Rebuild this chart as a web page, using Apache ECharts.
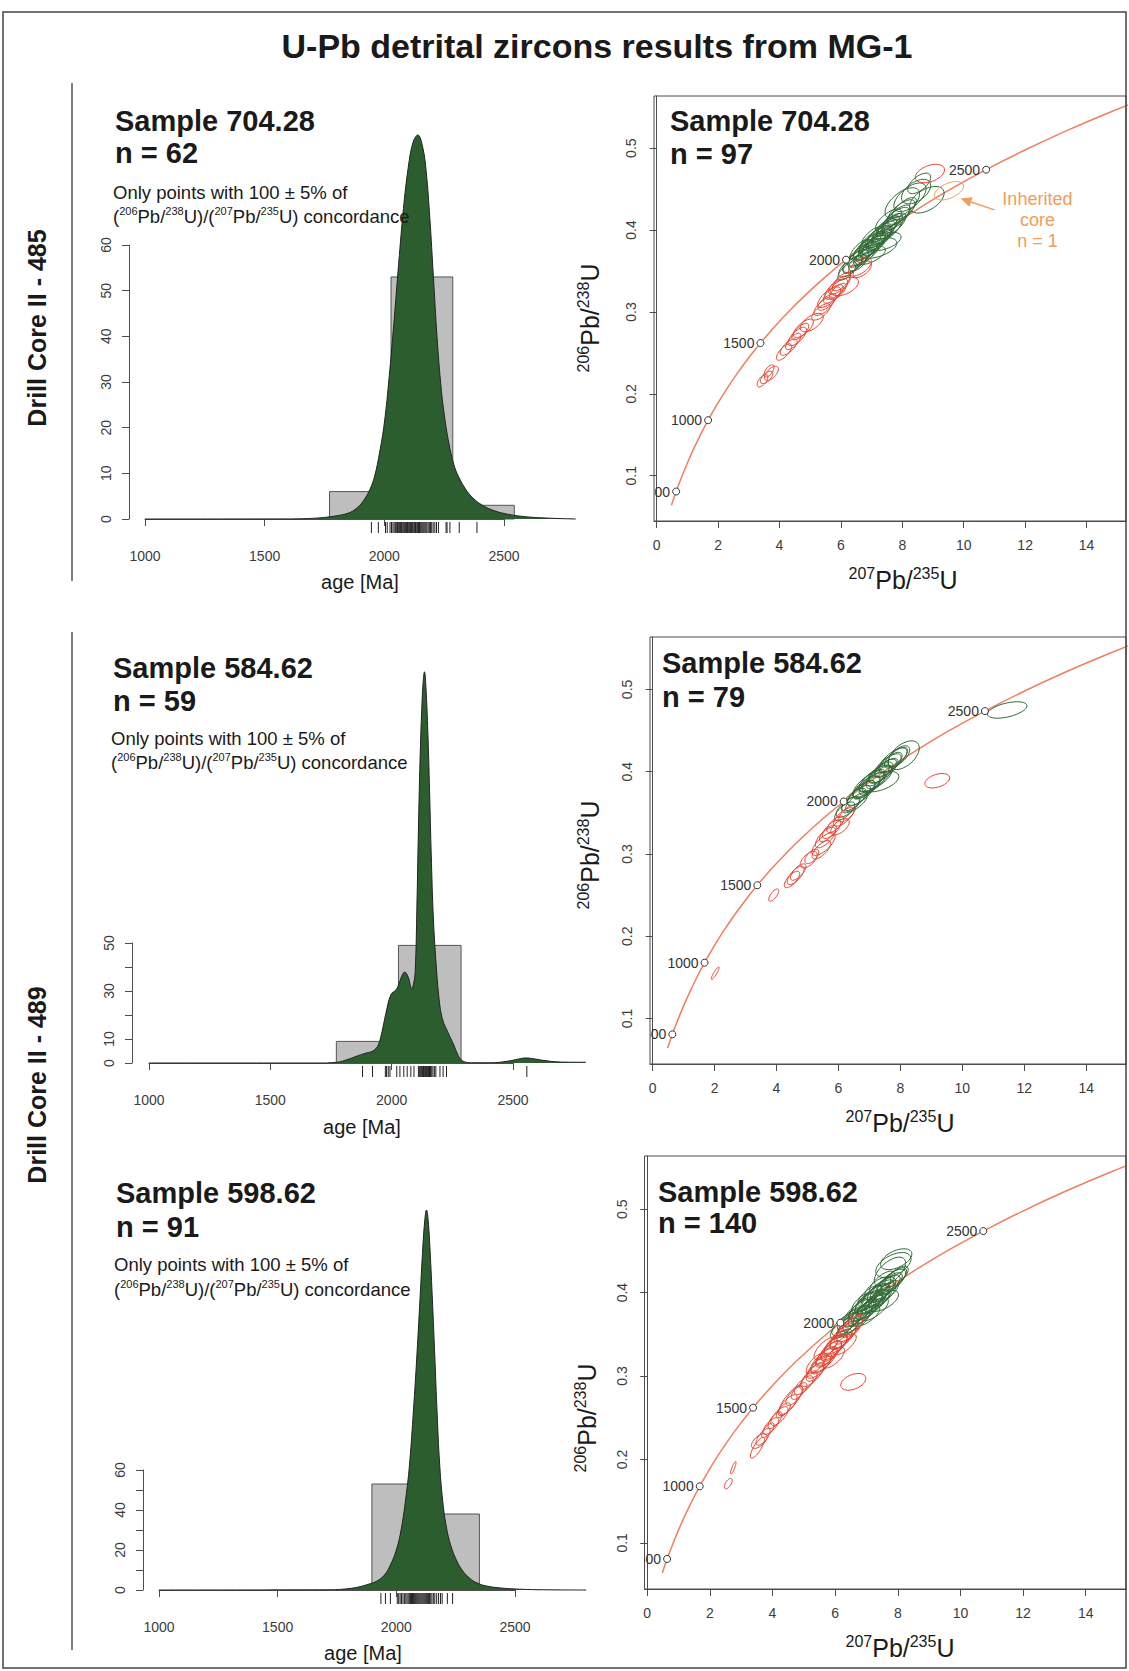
<!DOCTYPE html>
<html>
<head>
<meta charset="utf-8">
<title>U-Pb detrital zircons results from MG-1</title>
<script src="https://cdn.jsdelivr.net/npm/echarts@6/dist/echarts.min.js"></script>
<style>
  html, body { margin: 0; padding: 0; background: #fff; }
  #main { width: 1129px; height: 1671px; }
</style>
</head>
<body>
<div id="main"></div>
<script>
// ---- histograms: [from Ma, to Ma, count] ----
var hist704 = [[1771, 2028, 6], [2028, 2286, 53], [2286, 2543, 3]];
var hist584 = [[1772, 2028, 9], [2028, 2286, 49]];
var hist598 = [[1897, 2124, 53], [2124, 2350, 38]];

// ---- kernel density curves: [age Ma, value] ----
var kde704 = [[1000, 0], [1600, 0.02], [1650, 0.05], [1700, 0.15], [1750, 0.35], [1800, 0.7], [1850, 1.3],
  [1880, 2.2], [1910, 3.8], [1940, 6.5], [1960, 9.5], [1980, 14.5], [2000, 21], [2020, 31], [2040, 43], [2060, 56],
  [2080, 68], [2100, 77], [2120, 82.5], [2140, 84.1], [2160, 81.5], [2175, 76], [2190, 66], [2205, 53], [2220, 40],
  [2235, 30], [2250, 23], [2270, 16.5], [2290, 12], [2310, 9.3], [2340, 6.5], [2370, 4.6], [2410, 3.0], [2460, 1.8],
  [2520, 1.0], [2590, 0.5], [2660, 0.25], [2730, 0.1], [2800, 0]];
var kde584 = [[1000, 0], [1700, 0], [1773, 0.3], [1820, 1.5], [1855, 2.8], [1890, 4], [1919, 4.8], [1935, 6],
  [1947, 8], [1960, 13], [1976, 20.6], [1997, 28.5], [2018, 30.5], [2030, 33], [2040, 35.8], [2054, 37.9],
  [2068, 35.8], [2083, 31], [2090, 33], [2097, 38], [2104, 65], [2111, 101], [2118, 130], [2125, 150], [2130, 159],
  [2135, 163], [2142, 155], [2150, 135], [2157, 110], [2163, 87], [2172, 60], [2185, 38.6], [2195, 27], [2204, 20.6],
  [2215, 16.5], [2225, 14.3], [2240, 11], [2254, 8], [2268, 4.5], [2282, 1.8], [2300, 0.5], [2330, 0.1],
  [2410, 0.1], [2481, 0.8], [2520, 1.6], [2553, 2.1], [2590, 1.7], [2624, 1.1], [2695, 0.4], [2800, 0.3]];
var kde598 = [[1000, 0], [1700, 0.1], [1760, 0.3], [1800, 0.7], [1840, 1.5], [1880, 2.8], [1917, 4.4], [1950, 7.5],
  [1975, 12.5], [2000, 20], [2020, 30], [2040, 46], [2055, 62], [2070, 86], [2085, 114], [2100, 146], [2112, 172],
  [2120, 185], [2127, 190], [2134, 185], [2142, 170], [2152, 145], [2162, 117], [2172, 88], [2182, 64], [2195, 45],
  [2210, 32], [2230, 22], [2255, 14.5], [2280, 9.5], [2310, 5.8], [2340, 3.5], [2380, 2], [2440, 1], [2520, 0.4],
  [2620, 0.1], [2800, 0]];

// ---- rug ages (Ma) ----
var rug704 = [1946, 1975, 2005, 2012, 2024, 2030, 2036, 2041, 2046, 2050, 2055, 2060, 2064, 2068, 2072, 2077, 2081,
  2085, 2089, 2093, 2097, 2100, 2104, 2107, 2110, 2113, 2117, 2120, 2124, 2127, 2130, 2133, 2137, 2140, 2143, 2147,
  2150, 2154, 2158, 2162, 2166, 2170, 2174, 2178, 2183, 2188, 2193, 2198, 2204, 2211, 2218, 2226, 2258, 2262, 2274,
  2313, 2387];
var rug584 = [1880, 1921, 1974, 1979, 1986, 1993, 2021, 2034, 2050, 2064, 2079, 2092, 2110, 2114, 2118, 2122, 2125,
  2128, 2131, 2134, 2137, 2140, 2143, 2146, 2149, 2152, 2156, 2160, 2165, 2170, 2176, 2182, 2199, 2212, 2226, 2557];
var rug598 = [1935, 1954, 1975, 2004, 2010, 2016, 2022, 2028, 2034, 2040, 2045, 2050, 2055, 2060, 2064, 2068, 2072,
  2076, 2080, 2084, 2088, 2092, 2096, 2100, 2104, 2108, 2112, 2116, 2120, 2124, 2128, 2132, 2136, 2140, 2145, 2150,
  2156, 2162, 2170, 2178, 2186, 2193, 2215, 2237];

// ---- concordia (207Pb/235U, 206Pb/238U) ----
var concordiaCurve = [[0.483, 0.0640], [0.558, 0.0723], [0.636, 0.0807], [0.806, 0.0975], [0.993, 0.1147],
  [1.199, 0.1321], [1.426, 0.1498], [1.677, 0.1678], [1.955, 0.1861], [2.260, 0.2046], [2.598, 0.2234],
  [2.970, 0.2426], [3.381, 0.2620], [3.834, 0.2817], [4.335, 0.3018], [4.887, 0.3221], [5.496, 0.3428],
  [6.169, 0.3638], [6.911, 0.3851], [7.729, 0.4067], [8.633, 0.4287], [9.630, 0.4511], [10.730, 0.4737],
  [11.944, 0.4968], [13.283, 0.5202], [14.762, 0.5439], [16.393, 0.5681]];
var concordiaAges = ['500', '1000', '1500', '2000', '2500'];
var concordiaMarks = [[0.636, 0.0807], [1.677, 0.1678], [3.381, 0.2620], [6.169, 0.3638], [10.730, 0.4737]];

// ---- error ellipses: [x, y, sx, sy, rho] ----
var green704 = [[6.20, 0.350, 0.24, 0.009, 0.7], [6.30, 0.355, 0.30, 0.010, 0.7], [6.40, 0.358, 0.26, 0.009, 0.7],
  [6.48, 0.362, 0.34, 0.011, 0.7], [6.55, 0.360, 0.24, 0.008, 0.6], [6.62, 0.367, 0.32, 0.010, 0.7],
  [6.70, 0.371, 0.38, 0.012, 0.75], [6.76, 0.368, 0.28, 0.009, 0.7], [6.82, 0.376, 0.34, 0.011, 0.7],
  [6.88, 0.373, 0.30, 0.010, 0.7], [6.92, 0.380, 0.40, 0.013, 0.75], [6.98, 0.378, 0.28, 0.009, 0.7],
  [7.03, 0.384, 0.34, 0.011, 0.7], [7.08, 0.381, 0.30, 0.010, 0.7], [7.12, 0.388, 0.42, 0.013, 0.75],
  [7.17, 0.386, 0.28, 0.009, 0.7], [7.22, 0.392, 0.34, 0.011, 0.7], [7.27, 0.389, 0.30, 0.010, 0.7],
  [7.32, 0.396, 0.36, 0.012, 0.75], [7.37, 0.393, 0.28, 0.009, 0.7], [7.42, 0.400, 0.32, 0.011, 0.7],
  [7.48, 0.398, 0.38, 0.012, 0.75], [7.54, 0.405, 0.30, 0.010, 0.7], [7.60, 0.403, 0.34, 0.011, 0.7],
  [7.66, 0.409, 0.28, 0.009, 0.7], [7.72, 0.407, 0.32, 0.011, 0.7], [7.80, 0.414, 0.34, 0.011, 0.7],
  [7.88, 0.418, 0.30, 0.010, 0.7], [7.96, 0.422, 0.36, 0.012, 0.7], [8.06, 0.426, 0.32, 0.011, 0.7],
  [7.20, 0.378, 0.50, 0.010, 0.5], [7.40, 0.386, 0.45, 0.009, 0.5], [6.95, 0.369, 0.40, 0.009, 0.6],
  [7.05, 0.392, 0.30, 0.010, 0.7], [7.55, 0.412, 0.34, 0.011, 0.7], [6.65, 0.376, 0.28, 0.010, 0.7],
  [8.00, 0.433, 0.45, 0.015, 0.6], [8.25, 0.440, 0.42, 0.014, 0.6], [8.55, 0.457, 0.30, 0.010, 0.6],
  [8.80, 0.437, 0.45, 0.013, 0.5], [8.45, 0.447, 0.38, 0.012, 0.5]];
var red704 = [[3.45, 0.216, 0.14, 0.006, 0.6], [3.58, 0.220, 0.16, 0.006, 0.6], [3.66, 0.228, 0.13, 0.006, 0.6],
  [3.74, 0.225, 0.18, 0.007, 0.6], [4.15, 0.251, 0.20, 0.008, 0.7], [4.30, 0.257, 0.22, 0.008, 0.7],
  [4.45, 0.264, 0.20, 0.008, 0.7], [4.58, 0.270, 0.24, 0.009, 0.7], [4.68, 0.276, 0.22, 0.008, 0.7],
  [4.78, 0.280, 0.26, 0.009, 0.7], [5.05, 0.287, 0.30, 0.009, 0.6], [5.35, 0.300, 0.24, 0.008, 0.7],
  [5.45, 0.307, 0.26, 0.009, 0.7], [5.55, 0.312, 0.24, 0.008, 0.7], [5.62, 0.318, 0.30, 0.010, 0.7],
  [5.75, 0.322, 0.26, 0.009, 0.7], [5.85, 0.328, 0.30, 0.010, 0.7], [5.95, 0.333, 0.28, 0.009, 0.7],
  [6.02, 0.337, 0.24, 0.009, 0.7], [6.12, 0.331, 0.36, 0.009, 0.5], [5.90, 0.325, 0.22, 0.008, 0.7],
  [6.62, 0.355, 0.30, 0.009, 0.6], [6.70, 0.352, 0.24, 0.008, 0.6], [8.90, 0.469, 0.38, 0.009, 0.4]];
var inherited704 = [[9.52, 0.448, 0.38, 0.009, 0.5]];

var green584 = [[6.20, 0.352, 0.26, 0.009, 0.7], [6.30, 0.357, 0.30, 0.010, 0.7], [6.40, 0.360, 0.24, 0.008, 0.6],
  [6.50, 0.366, 0.32, 0.011, 0.7], [6.58, 0.363, 0.28, 0.009, 0.7], [6.66, 0.371, 0.30, 0.010, 0.7],
  [6.74, 0.374, 0.36, 0.012, 0.75], [6.82, 0.378, 0.28, 0.009, 0.7], [6.90, 0.381, 0.34, 0.011, 0.7],
  [6.96, 0.385, 0.40, 0.013, 0.75], [7.02, 0.383, 0.28, 0.009, 0.7], [7.08, 0.389, 0.34, 0.011, 0.7],
  [7.14, 0.387, 0.30, 0.010, 0.7], [7.20, 0.392, 0.42, 0.013, 0.75], [7.26, 0.395, 0.30, 0.010, 0.7],
  [7.32, 0.393, 0.34, 0.011, 0.7], [7.38, 0.399, 0.30, 0.010, 0.7], [7.45, 0.401, 0.38, 0.012, 0.75],
  [7.52, 0.404, 0.28, 0.009, 0.7], [7.60, 0.408, 0.34, 0.011, 0.7], [7.68, 0.411, 0.30, 0.010, 0.7],
  [7.76, 0.414, 0.36, 0.012, 0.7], [7.86, 0.417, 0.30, 0.010, 0.7], [7.95, 0.419, 0.28, 0.010, 0.6],
  [7.35, 0.388, 0.48, 0.010, 0.5], [8.11, 0.420, 0.40, 0.014, 0.5], [11.45, 0.475, 0.51, 0.008, 0.5]];
var red584 = [[2.02, 0.155, 0.10, 0.006, 0.9], [3.91, 0.250, 0.13, 0.006, 0.7], [4.50, 0.269, 0.20, 0.008, 0.7],
  [4.62, 0.274, 0.22, 0.009, 0.7], [4.70, 0.278, 0.20, 0.008, 0.7], [5.04, 0.293, 0.22, 0.008, 0.6],
  [5.14, 0.297, 0.18, 0.007, 0.6], [5.45, 0.305, 0.24, 0.009, 0.7], [5.52, 0.312, 0.30, 0.011, 0.7],
  [5.58, 0.320, 0.26, 0.010, 0.7], [5.66, 0.325, 0.22, 0.008, 0.7], [5.78, 0.330, 0.24, 0.009, 0.7],
  [5.90, 0.336, 0.22, 0.008, 0.7], [6.05, 0.333, 0.24, 0.008, 0.6], [6.17, 0.345, 0.26, 0.009, 0.7],
  [6.28, 0.349, 0.22, 0.008, 0.7], [9.19, 0.389, 0.32, 0.007, 0.4]];

var green598 = [[6.22, 0.357, 0.30, 0.010, 0.7], [6.32, 0.362, 0.34, 0.011, 0.7], [6.40, 0.358, 0.28, 0.009, 0.7],
  [6.48, 0.367, 0.32, 0.011, 0.7], [6.55, 0.364, 0.36, 0.012, 0.75], [6.62, 0.371, 0.30, 0.010, 0.7],
  [6.68, 0.366, 0.34, 0.011, 0.7], [6.74, 0.376, 0.40, 0.013, 0.75], [6.80, 0.372, 0.30, 0.010, 0.7],
  [6.86, 0.380, 0.36, 0.012, 0.7], [6.92, 0.376, 0.32, 0.011, 0.7], [6.98, 0.384, 0.42, 0.014, 0.75],
  [7.03, 0.380, 0.30, 0.010, 0.7], [7.08, 0.388, 0.36, 0.012, 0.7], [7.13, 0.383, 0.32, 0.011, 0.7],
  [7.18, 0.392, 0.44, 0.014, 0.75], [7.23, 0.387, 0.30, 0.010, 0.7], [7.28, 0.396, 0.36, 0.012, 0.7],
  [7.33, 0.390, 0.32, 0.011, 0.7], [7.38, 0.399, 0.40, 0.013, 0.75], [7.43, 0.394, 0.30, 0.010, 0.7],
  [7.48, 0.403, 0.36, 0.012, 0.7], [7.54, 0.398, 0.32, 0.011, 0.7], [7.60, 0.406, 0.38, 0.012, 0.75],
  [7.66, 0.402, 0.30, 0.010, 0.7], [7.72, 0.410, 0.34, 0.011, 0.7], [7.80, 0.413, 0.36, 0.012, 0.7],
  [7.88, 0.416, 0.32, 0.011, 0.7], [7.96, 0.419, 0.30, 0.010, 0.7], [7.10, 0.396, 0.30, 0.010, 0.7],
  [7.35, 0.405, 0.34, 0.011, 0.7], [6.90, 0.388, 0.30, 0.010, 0.7], [7.55, 0.390, 0.38, 0.010, 0.6],
  [7.00, 0.372, 0.34, 0.010, 0.7], [7.25, 0.380, 0.36, 0.011, 0.7], [7.50, 0.412, 0.32, 0.011, 0.7],
  [7.75, 0.425, 0.40, 0.014, 0.6], [7.86, 0.433, 0.45, 0.012, 0.5], [7.95, 0.440, 0.40, 0.010, 0.5]];
var red598 = [[2.59, 0.171, 0.10, 0.005, 0.6], [2.75, 0.190, 0.07, 0.006, 0.85], [3.52, 0.214, 0.18, 0.010, 0.8],
  [3.58, 0.222, 0.20, 0.007, 0.6], [3.70, 0.227, 0.18, 0.008, 0.7], [3.85, 0.235, 0.16, 0.007, 0.7],
  [3.95, 0.240, 0.20, 0.008, 0.7], [4.08, 0.247, 0.18, 0.008, 0.7], [4.22, 0.252, 0.22, 0.009, 0.7],
  [4.35, 0.259, 0.18, 0.007, 0.7], [4.48, 0.265, 0.24, 0.010, 0.75], [4.58, 0.271, 0.30, 0.014, 0.8],
  [4.70, 0.276, 0.22, 0.009, 0.7], [4.85, 0.282, 0.20, 0.008, 0.7], [5.00, 0.289, 0.24, 0.009, 0.7],
  [5.15, 0.295, 0.22, 0.009, 0.7], [5.28, 0.301, 0.28, 0.011, 0.75], [5.38, 0.305, 0.24, 0.009, 0.7],
  [5.48, 0.311, 0.30, 0.011, 0.75], [5.56, 0.315, 0.26, 0.010, 0.7], [5.64, 0.319, 0.34, 0.012, 0.75],
  [5.72, 0.323, 0.28, 0.010, 0.7], [5.80, 0.327, 0.32, 0.012, 0.75], [5.88, 0.330, 0.26, 0.010, 0.7],
  [5.95, 0.334, 0.34, 0.012, 0.75], [6.02, 0.337, 0.30, 0.011, 0.7], [6.10, 0.341, 0.36, 0.012, 0.75],
  [6.18, 0.344, 0.28, 0.010, 0.7], [6.26, 0.348, 0.34, 0.012, 0.7], [6.35, 0.352, 0.30, 0.011, 0.7],
  [6.45, 0.356, 0.34, 0.012, 0.7], [6.55, 0.360, 0.30, 0.011, 0.7], [5.70, 0.333, 0.30, 0.011, 0.7],
  [5.95, 0.322, 0.28, 0.010, 0.7], [6.30, 0.338, 0.30, 0.010, 0.7], [5.40, 0.315, 0.26, 0.010, 0.7],
  [6.58, 0.293, 0.32, 0.008, 0.4]];

// inherited core arrow: tail x, tail y, tip x, tip y
var inheritedArrow = [[11.0, 0.4246, 9.9, 0.4385]];

// ------------------------------------------------------------------
var FONT = '"Liberation Sans", Arial, Helvetica, sans-serif';
var INK = '#1a1a1a', AXIS = '#4d4d4d', TICKTXT = '#3c3c3c';
var KDE_FILL = '#2c5d2f', BAR_FILL = '#bebebe', CURVE = '#ef7f5f';
var RED = '#e8412d', GREEN = '#2f6b37', ORANGE = '#f39c5b';
var ELLIPSE_K = 1.25;   // drawn confidence scale

var chart = echarts.init(document.getElementById('main'), null, { renderer: 'svg', width: 1129, height: 1671 });

function histItem(params, api) {
    var a = api.coord([api.value(0), api.value(2)]);
    var b = api.coord([api.value(1), 0]);
    return {
        type: 'rect',
        shape: { x: a[0], y: a[1], width: b[0] - a[0], height: b[1] - a[1] },
        style: { fill: BAR_FILL, stroke: '#555', lineWidth: 1 }
    };
}

function rugItem(params, api) {
    var p = api.coord([api.value(0), 0]);
    return {
        type: 'line',
        shape: { x1: p[0], y1: p[1] + 3, x2: p[0], y2: p[1] + 14 },
        style: { stroke: '#222', lineWidth: 1 }
    };
}

function ellipseItem(color) {
    return function (params, api) {
        var x = api.value(0), y = api.value(1);
        var sx = api.value(2) * ELLIPSE_K, sy = api.value(3) * ELLIPSE_K, r = api.value(4);
        var k = Math.sqrt(1 - r * r);
        var pts = [];
        for (var i = 0; i < 40; i++) {
            var t = i / 40 * Math.PI * 2;
            var c = Math.cos(t), s = Math.sin(t);
            pts.push(api.coord([x + sx * c, y + sy * (r * c + k * s)]));
        }
        return { type: 'polygon', shape: { points: pts }, style: { fill: 'none', stroke: color, lineWidth: 1 } };
    };
}

function markItem(params, api) {
    var p = api.coord([api.value(0), api.value(1)]);
    return {
        type: 'group',
        children: [
            { type: 'circle', shape: { cx: p[0], cy: p[1], r: 3.5 }, style: { fill: '#fff', stroke: '#333', lineWidth: 1 } },
            {
                type: 'text', x: p[0] - 6, y: p[1],
                style: { text: concordiaAges[params.dataIndex], font: '14px ' + FONT, fill: '#333',
                    textAlign: 'right', textVerticalAlign: 'middle' }
            }
        ]
    };
}

function arrowItem(params, api) {
    var a = api.coord([api.value(0), api.value(1)]);
    var b = api.coord([api.value(2), api.value(3)]);
    var dx = b[0] - a[0], dy = b[1] - a[1], len = Math.sqrt(dx * dx + dy * dy);
    var ux = dx / len, uy = dy / len, hl = 11, hw = 5;
    var base = [b[0] - ux * hl, b[1] - uy * hl];
    var t = api.coord([12.4, 0.412]);
    return {
        type: 'group',
        children: [
            { type: 'line', shape: { x1: a[0], y1: a[1], x2: base[0], y2: base[1] }, style: { stroke: ORANGE, lineWidth: 1.5 } },
            { type: 'polygon', shape: { points: [b, [base[0] - uy * hw, base[1] + ux * hw], [base[0] + uy * hw, base[1] - ux * hw]] },
              style: { fill: ORANGE } },
            { type: 'text', x: t[0], y: t[1],
              style: { text: 'Inherited\ncore\nn = 1', fill: ORANGE, font: '18px ' + FONT, lineHeight: 21,
                  textAlign: 'center', textVerticalAlign: 'middle' } }
        ]
    };
}

// ---- layout of the age-spectrum panels (px of 1000 Ma, px per Ma, top, baseline) ----
var histBox = [
    { left: 145, perMa: 359 / 1500, top: 245, height: 274, yMax: 60, yLabels: [0, 10, 20, 30, 40, 50, 60], yOff: 16 },
    { left: 149, perMa: 364 / 1500, top: 943, height: 120, yMax: 50, yLabels: [0, 10, 30, 50], yOff: 17 },
    { left: 159, perMa: 356 / 1500, top: 1470, height: 120, yMax: 60, yLabels: [0, 20, 40, 60], yOff: 16 }
];

// grids 0-2: data area of the age spectra (1000-2800 Ma), 3-5: concordia, 6-8: visible age axes (1000-2500 Ma)
var grids = [];
histBox.forEach(function (h) {
    grids.push({ left: h.left, top: h.top, width: h.perMa * 1800, height: h.height });
});
grids.push({ left: 654, top: 96, width: 472, height: 425, show: true, borderColor: AXIS, borderWidth: 1 });
grids.push({ left: 650, top: 637, width: 476, height: 427, show: true, borderColor: AXIS, borderWidth: 1 });
grids.push({ left: 644.5, top: 1156, width: 481.5, height: 433, show: true, borderColor: AXIS, borderWidth: 1 });
histBox.forEach(function (h) {
    grids.push({ left: h.left, top: h.top, width: h.perMa * 1500, height: h.height });
});

var tickLabel = { color: TICKTXT, fontSize: 14, fontFamily: FONT, formatter: function (v) { return String(v); } };
var concXTicks = [0, 2, 4, 6, 8, 10, 12, 14];
var concYTicks = [0.1, 0.2, 0.3, 0.4, 0.5];

var xAxes = [], yAxes = [];
histBox.forEach(function (h, i) {
    xAxes.push({ gridIndex: i, type: 'value', min: 1000, max: 2800, show: false });
    yAxes.push({ gridIndex: i, type: 'value', min: 0, max: h.yMax, show: false });
});
[3, 4, 5].forEach(function (gi) {
    xAxes.push({
        gridIndex: gi, type: 'value', min: -0.085, max: 15.285,
        axisLine: { show: true, lineStyle: { color: AXIS } },
        axisTick: { show: true, length: 7, customValues: concXTicks, lineStyle: { color: AXIS } },
        axisLabel: Object.assign({ margin: 17, customValues: concXTicks }, tickLabel),
        splitLine: { show: false }
    });
    yAxes.push({
        gridIndex: gi, type: 'value', min: 0.0447, max: 0.5637,
        axisLine: { show: true, lineStyle: { color: AXIS } },
        axisTick: { show: true, length: 7, customValues: concYTicks, lineStyle: { color: AXIS } },
        axisLabel: Object.assign({ rotate: 90, margin: 16, customValues: concYTicks }, tickLabel),
        splitLine: { show: false }
    });
});
histBox.forEach(function (h, i) {
    xAxes.push({
        gridIndex: 6 + i, type: 'value', min: 1000, max: 2500, interval: 500, offset: 15,
        axisLine: { show: true, lineStyle: { color: AXIS } },
        axisTick: { show: true, length: 7, lineStyle: { color: AXIS } },
        axisLabel: Object.assign({ margin: 15 }, tickLabel),
        splitLine: { show: false }
    });
    yAxes.push({
        gridIndex: 6 + i, type: 'value', min: 0, max: h.yMax, interval: 10, offset: h.yOff,
        axisLine: { show: true, lineStyle: { color: AXIS } },
        axisTick: { show: true, length: 7, lineStyle: { color: AXIS } },
        axisLabel: Object.assign({ rotate: 90, margin: 16, customValues: h.yLabels }, tickLabel),
        splitLine: { show: false }
    });
});

// ---- series ----
var series = [];
[{ bins: hist704, kde: kde704, rug: rug704 },
 { bins: hist584, kde: kde584, rug: rug584 },
 { bins: hist598, kde: kde598, rug: rug598 }].forEach(function (p, i) {
    series.push({ type: 'custom', xAxisIndex: i, yAxisIndex: i, clip: false, renderItem: histItem,
        encode: { x: [0, 1], y: 2 }, data: p.bins, z: 2 });
    series.push({ type: 'line', xAxisIndex: i, yAxisIndex: i, data: p.kde, clip: false, smooth: 0.4,
        symbol: 'none', lineStyle: { color: '#222', width: 1 },
        areaStyle: { color: KDE_FILL, opacity: 1 }, z: 3 });
    series.push({ type: 'custom', xAxisIndex: i, yAxisIndex: i, clip: false, renderItem: rugItem,
        encode: { x: 0, y: 1 }, data: p.rug.map(function (a) { return [a, 0]; }), z: 4 });
});

[{ green: green704, red: red704, extra: inherited704 },
 { green: green584, red: red584 },
 { green: green598, red: red598 }].forEach(function (p, j) {
    var k = j + 3;
    series.push({ type: 'line', xAxisIndex: k, yAxisIndex: k, data: concordiaCurve, smooth: 0.3, clip: true,
        symbol: 'none', lineStyle: { color: CURVE, width: 1.5 }, z: 2 });
    series.push({ type: 'custom', xAxisIndex: k, yAxisIndex: k, clip: true, renderItem: ellipseItem(GREEN),
        encode: { x: 0, y: 1 }, data: p.green, z: 3 });
    series.push({ type: 'custom', xAxisIndex: k, yAxisIndex: k, clip: true, renderItem: ellipseItem(RED),
        encode: { x: 0, y: 1 }, data: p.red, z: 3 });
    if (p.extra) {
        series.push({ type: 'custom', xAxisIndex: k, yAxisIndex: k, clip: true, renderItem: ellipseItem(ORANGE),
            encode: { x: 0, y: 1 }, data: p.extra, z: 3 });
    }
    series.push({ type: 'custom', xAxisIndex: k, yAxisIndex: k, clip: true, renderItem: markItem,
        encode: { x: 0, y: 1 }, data: concordiaMarks, z: 5 });
});
series.push({ type: 'custom', xAxisIndex: 3, yAxisIndex: 3, clip: false, renderItem: arrowItem,
    encode: { x: [0, 2], y: [1, 3] }, data: inheritedArrow, z: 6 });

// ---- texts & frame ----
function text(x, y, str, size, opt) {
    opt = opt || {};
    return {
        type: 'text', x: x, y: y, rotation: opt.rot || 0, z: 50,
        style: {
            text: str, fill: opt.color || INK,
            font: (opt.bold ? 'bold ' : '') + size + 'px ' + FONT,
            textAlign: opt.align || 'left', textVerticalAlign: 'middle',
            lineHeight: opt.lh, rich: opt.rich
        }
    };
}
var supSmall = { s: { fontSize: 11, fontFamily: FONT, fill: INK, color: INK, verticalAlign: 'top', lineHeight: 12 } };
var supBig = { s: { fontSize: 16, fontFamily: FONT, fill: INK, color: INK, verticalAlign: 'top', lineHeight: 16 } };
var ratioLine = '({s|206}Pb/{s|238}U)/({s|207}Pb/{s|235}U) concordance';

var graphics = [
    { type: 'rect', z: 100, shape: { x: 3, y: 12, width: 1123, height: 1656 },
      style: { fill: 'none', stroke: '#444', lineWidth: 1.5 } },
    text(597, 46, 'U-Pb detrital zircons results from MG-1', 34, { bold: true, align: 'center' }),
    text(37, 328, 'Drill Core II - 485', 25, { bold: true, align: 'center', rot: Math.PI / 2 }),
    text(37, 1085, 'Drill Core II - 489', 25, { bold: true, align: 'center', rot: Math.PI / 2 }),
    { type: 'line', z: 50, shape: { x1: 72, y1: 83, x2: 72, y2: 581 }, style: { stroke: '#555', lineWidth: 1.5 } },
    { type: 'line', z: 50, shape: { x1: 72, y1: 632, x2: 72, y2: 1650 }, style: { stroke: '#555', lineWidth: 1.5 } }
];

[[115, 121, 153, 192, 216, 'Sample 704.28', 'n = 62'],
 [113, 668, 701, 738, 762, 'Sample 584.62', 'n = 59'],
 [116, 1193, 1227, 1264, 1289, 'Sample 598.62', 'n = 91']].forEach(function (r) {
    graphics.push(text(r[0], r[1], r[5], 29, { bold: true }));
    graphics.push(text(r[0], r[2], r[6], 29, { bold: true }));
    graphics.push(text(r[0] - 2, r[3], 'Only points with 100 \u00b1 5% of', 18.5));
    graphics.push(text(r[0] - 2, r[4], ratioLine, 18.5, { rich: supSmall, lh: 21 }));
});
[[670, 121, 154, 'Sample 704.28', 'n = 97'],
 [662, 663, 697, 'Sample 584.62', 'n = 79'],
 [658, 1192, 1223, 'Sample 598.62', 'n = 140']].forEach(function (r) {
    graphics.push(text(r[0], r[1], r[3], 29, { bold: true }));
    graphics.push(text(r[0], r[2], r[4], 29, { bold: true }));
});
[[360, 582], [362, 1127], [363, 1653]].forEach(function (r) {
    graphics.push(text(r[0], r[1], 'age [Ma]', 20, { align: 'center' }));
});
[[903, 580], [900, 1123], [900, 1648]].forEach(function (r) {
    graphics.push(text(r[0], r[1], '{s|207}Pb/{s|235}U', 25, { align: 'center', rich: supBig, lh: 29 }));
});
[[590, 318], [590, 855], [587, 1418]].forEach(function (r) {
    graphics.push(text(r[0], r[1], '{s|206}Pb/{s|238}U', 25, { align: 'center', rich: supBig, lh: 29, rot: Math.PI / 2 }));
});

chart.setOption({
    animation: false,
    backgroundColor: '#fff',
    grid: grids,
    xAxis: xAxes,
    yAxis: yAxes,
    series: series,
    graphic: { elements: graphics }
});
</script>
</body>
</html>
